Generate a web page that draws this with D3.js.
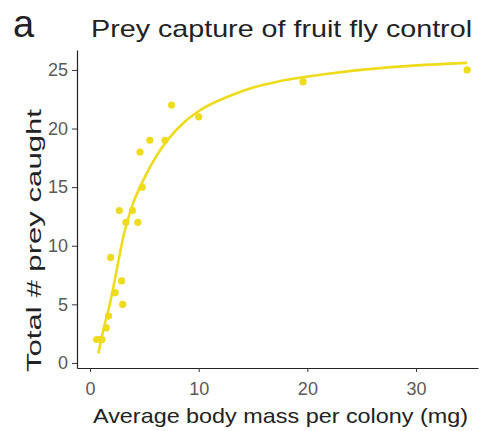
<!DOCTYPE html>
<html><head><meta charset="utf-8">
<script src="https://cdn.jsdelivr.net/npm/d3@7"></script>
<style>body{margin:0;background:#fff}svg{display:block}</style>
</head><body><svg id="c" width="482" height="431"></svg>
<script>
const massX = [0.6,1.1,0.9,1.5,1.7,1.9,2.3,2.9,3.0,2.7,3.3,3.9,4.4,4.8,4.6,5.5,6.9,7.5,10.0,19.6,34.7];
const preyY = [2,2,2,3,4,9,6,7,5,13,12,13,12,15,18,19,19,22,21,24,25];
const fitX = [0.77,1.22,1.84,2.45,3.07,3.84,4.9,6.0,7.2,8.74,10.2,12.9,15.0,17.5,22.1,26.7,31.3,34.7];
const fitY = [0.8,2.8,5.1,7.9,10.8,13.3,15.6,17.5,19.1,20.6,21.6,22.8,23.5,24.05,24.7,25.15,25.45,25.6];
const xTicks = [0,10,20,30];
const yTicks = [0,5,10,15,20,25];

const svg = d3.select("#c");
const col = "#eedc1c";
const x = d3.scaleLinear().domain([-1.2,35.7]).range([77,478]);
const y = d3.scaleLinear().domain([-0.43,26.7]).range([368,50]);

const ff = "'Liberation Sans', Arial, sans-serif";

// line
svg.append("path")
  .datum(fitX.map((d,i)=>[d,fitY[i]]))
  .attr("fill","none").attr("stroke",col).attr("stroke-width",2.6)
  .attr("d", d3.line().x(d=>x(d[0])).y(d=>y(d[1])).curve(d3.curveMonotoneX));

// points
svg.append("g").selectAll("circle").data(massX.map((d,i)=>[d,preyY[i]])).join("circle")
  .attr("cx",d=>x(d[0])).attr("cy",d=>y(d[1])).attr("r",3.6).attr("fill",col);

// axes
const xa = svg.append("g").attr("transform","translate(0,368)")
  .call(d3.axisBottom(x).tickValues(xTicks).tickSize(4).tickPadding(10).tickSizeOuter(0));
const ya = svg.append("g").attr("transform","translate(77,0)")
  .call(d3.axisLeft(y).tickValues(yTicks).tickSize(5).tickPadding(4).tickSizeOuter(0));
[xa,ya].forEach(a=>{
  a.select(".domain").attr("stroke","#222").attr("stroke-width",1.2);
  a.selectAll(".tick line").attr("stroke","#333");
  a.selectAll(".tick text").attr("fill","#595959").attr("font-size",18).attr("font-family",ff);
});

svg.append("text").attr("x",13).attr("y",37).text("a")
  .attr("font-size",38).attr("font-family",ff).attr("fill","#222");
svg.append("text").attr("x",91).attr("y",37).text("Prey capture of fruit fly control")
  .attr("font-size",24).attr("font-family",ff).attr("fill","#222")
  .attr("textLength",381).attr("lengthAdjust","spacingAndGlyphs");
svg.append("text").attr("x",93).attr("y",423)
  .text("Average body mass per colony (mg)")
  .attr("font-size",21).attr("font-family",ff).attr("fill","#222")
  .attr("textLength",375).attr("lengthAdjust","spacingAndGlyphs");
svg.append("text").attr("transform","translate(41,372) rotate(-90)")
  .text("Total # prey caught")
  .attr("font-size",21).attr("font-family",ff).attr("fill","#222")
  .attr("textLength",263).attr("lengthAdjust","spacingAndGlyphs");
</script></body></html>
